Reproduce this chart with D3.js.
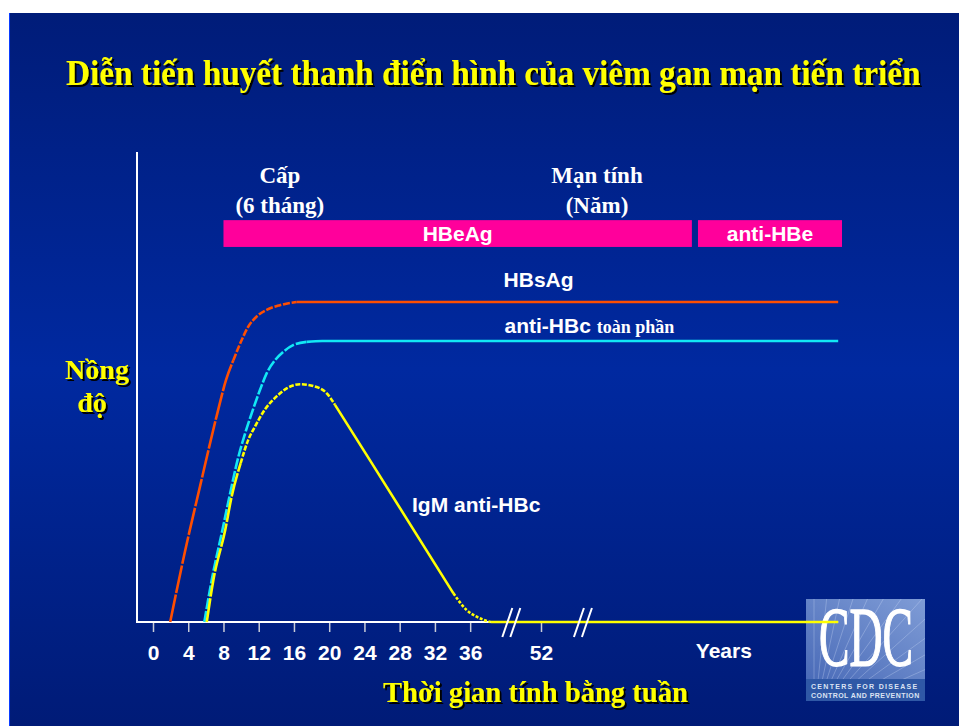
<!DOCTYPE html>
<html>
<head>
<meta charset="utf-8">
<script src="https://cdn.jsdelivr.net/npm/d3@7"></script>
<style>
  body { margin: 0; background: #fff; }
  svg { display: block; }
</style>
</head>
<body>
<svg id="chart" width="959" height="726"></svg>
<script>
// --- data (weeks after exposure, relative concentration 0-100) ---
var weekTicks = [0, 4, 8, 12, 16, 20, 24, 28, 32, 36, 52];
var yearsTick = 100;           // where the "Years" label sits on the week scale
var axisBreaks = [42, 63];     // the two "//" marks on the time axis

var hbsag = [[1.95, 0], [3.63, 15], [5.33, 28.8], [7.3, 44.4], [8.29, 51.5], [9.12, 55.7],
  [10.07, 60], [10.8, 62.8], [11.77, 65], [12.9, 66.4], [14.4, 67.4], [16.3, 68.1], [130, 68.1]];

var antiHbcTotal = [[5.83, 0], [6.66, 8.9], [7.8, 18.9], [8.6, 26], [9.7, 35.2], [10.45, 40.1],
  [11.2, 44.4], [12.15, 49.4], [12.9, 52.9], [13.85, 55.7], [14.8, 57.5], [15.9, 58.9],
  [17.45, 59.6], [19.2, 59.8], [130, 59.8]];

var igmAntiHbc = [[6.1, 0], [6.85, 8.9], [8.2, 19.6], [8.93, 26.7], [9.95, 33.8], [10.8, 38.7],
  [11.58, 41.6], [12.7, 45.2], [14.03, 48], [15.17, 49.7], [16.69, 50.6], [18.2, 50.2],
  [19.7, 48.7], [20.66, 46.2], [24.6, 34.5], [34.1, 6.1], [35.6, 2.55], [36.74, 1.13],
  [38.3, 0], [130, 0]];

// marker bars: label, start week, end week
var markerBars = [["HBeAg", 8, 91.6], ["anti-HBe", 93.2, 131]];

// phase headers: first line, second line, centre week
var phases = [["Cấp", "(6 tháng)", 14.4], ["Mạn tính", "(Năm)", 66.7]];

var titleText = "Diễn tiến huyết thanh điển hình của viêm gan mạn tiến triển";
var yTitle = ["Nồng", "độ"];
var xTitle = "Thời gian tính bằng tuần";

// --- layout ---
var W = 959, H = 726;
var axisX = 137, axisTop = 152, axisBottom = 622;
var serif = "'Liberation Serif', 'Times New Roman', serif";
var sans = "'Liberation Sans', Arial, sans-serif";

var svg = d3.select('#chart');
var defs = svg.append('defs');

var bg = defs.append('linearGradient').attr('id', 'bg').attr('x1', 0).attr('y1', 0).attr('x2', 0).attr('y2', 1);
bg.append('stop').attr('offset', '0%').attr('stop-color', '#001c79');
bg.append('stop').attr('offset', '50%').attr('stop-color', '#0029a0');
bg.append('stop').attr('offset', '100%').attr('stop-color', '#001b77');

// hard black drop shadow for the yellow titles
defs.append('filter').attr('id', 'shadow').attr('x', '-5%').attr('y', '-20%').attr('width', '115%').attr('height', '160%')
  .append('feDropShadow').attr('dx', 2).attr('dy', 2).attr('stdDeviation', 0.3)
  .attr('flood-color', '#000').attr('flood-opacity', 1);

svg.append('rect').attr('width', W).attr('height', H).attr('fill', '#fff');
svg.append('rect').attr('x', 9).attr('y', 13).attr('width', W - 9).attr('height', H - 13).attr('fill', 'url(#bg)');
svg.append('line').attr('x1', 9.5).attr('x2', 9.5).attr('y1', 13).attr('y2', H)
  .attr('stroke', '#0a3cff').attr('stroke-width', 1);

// piecewise scale: weeks are linear up to 40, then compressed past the axis breaks
var x = d3.scaleLinear().domain([0, 40, 52, 131]).range([153, 505.4, 541, 842]);
var y = d3.scaleLinear().domain([0, 100]).range([axisBottom, axisTop]);

// yellow serif text; squeezed horizontally to a target width when given
function shadowText(str, px, py, size, anchor, width) {
  var t = svg.append('text').attr('x', 0).attr('y', 0)
    .attr('font-family', serif).attr('font-weight', 'bold').attr('font-size', size)
    .attr('text-anchor', anchor).attr('fill', '#ffff00').attr('filter', 'url(#shadow)').text(str);
  var sx = 1;
  if (width) sx = Math.min(1, width / t.node().getComputedTextLength());
  t.attr('transform', 'translate(' + px + ',' + py + ') scale(' + sx + ',1)');
  return t;
}

// title
shadowText(titleText, 66, 85, 35, 'start', 855);

// y title
shadowText(yTitle[0], 97, 379, 28, 'middle');
shadowText(yTitle[1], 92, 412, 28, 'middle');

// x title
shadowText(xTitle, 383, 702, 29, 'start', 305);

// --- CDC logo ---
var logo = svg.append('g').attr('transform', 'translate(806,599)');
var lg = defs.append('linearGradient').attr('id', 'logoGrad').attr('x1', 0).attr('y1', 1).attr('x2', 1).attr('y2', 0);
lg.append('stop').attr('offset', '0%').attr('stop-color', '#4a6bb8');
lg.append('stop').attr('offset', '100%').attr('stop-color', '#7f9cd6');
defs.append('clipPath').attr('id', 'logoClip').append('rect').attr('width', 119).attr('height', 80);
logo.append('rect').attr('width', 119).attr('height', 102).attr('fill', '#2f58a6');
logo.append('rect').attr('width', 119).attr('height', 80).attr('fill', 'url(#logoGrad)');
var rays = logo.append('g').attr('clip-path', 'url(#logoClip)');
d3.range(0, 16).forEach(function (i) {
  var a = -Math.PI / 2 + i * (Math.PI / 2) / 15;
  rays.append('line').attr('x1', 8).attr('y1', 120)
    .attr('x2', 8 + Math.cos(a) * 220).attr('y2', 120 + Math.sin(a) * 220)
    .attr('stroke', '#dfe8ff').attr('stroke-opacity', 0.35).attr('stroke-width', 0.8);
});
var cdc = logo.append('text').attr('x', 0).attr('y', 0).attr('font-family', serif).attr('font-size', 84)
  .attr('fill', '#fff').attr('stroke', '#fff').attr('stroke-width', 1.4).text('CDC');
cdc.attr('transform', 'translate(13,67) scale(' + (94 / cdc.node().getComputedTextLength()) + ',1)');
logo.append('text').attr('x', 5).attr('y', 90).attr('font-family', sans).attr('font-weight', 'bold')
  .attr('font-size', 7).attr('fill', '#dbe3f3').attr('letter-spacing', 1.3)
  .text('CENTERS FOR DISEASE');
logo.append('text').attr('x', 5).attr('y', 99).attr('font-family', sans).attr('font-weight', 'bold')
  .attr('font-size', 7).attr('fill', '#dbe3f3').attr('letter-spacing', 0.45)
  .text('CONTROL AND PREVENTION');

// --- axes ---
svg.append('line').attr('x1', axisX).attr('x2', axisX).attr('y1', axisTop).attr('y2', axisBottom + 1)
  .attr('stroke', '#fff').attr('stroke-width', 2);

var xAxis = svg.append('g').attr('transform', 'translate(0,' + axisBottom + ')')
  .call(d3.axisBottom(x).tickValues(weekTicks).tickSize(10).tickPadding(13).tickFormat(d3.format('d')));
xAxis.select('.domain').remove();
xAxis.selectAll('.tick line').attr('stroke', '#c8ccd8').attr('stroke-width', 1.5);
xAxis.selectAll('.tick text').attr('fill', '#fff').attr('font-family', sans)
  .attr('font-weight', 'bold').attr('font-size', 21);

svg.append('line').attr('x1', axisX).attr('x2', x(130)).attr('y1', axisBottom).attr('y2', axisBottom)
  .attr('stroke', '#fff').attr('stroke-width', 2);

svg.append('text').attr('x', x(yearsTick)).attr('y', 658).attr('text-anchor', 'middle')
  .attr('font-family', sans).attr('font-weight', 'bold').attr('font-size', 21).attr('fill', '#fff')
  .text('Years');

// --- marker bars ---
var barTop = 85.5, barBottom = 79.8;
markerBars.forEach(function (b) {
  svg.append('rect').attr('x', x(b[1])).attr('y', y(barTop))
    .attr('width', x(b[2]) - x(b[1])).attr('height', y(barBottom) - y(barTop)).attr('fill', '#ff009b');
  svg.append('text').attr('x', (x(b[1]) + x(b[2])) / 2).attr('y', y(barBottom) - 6)
    .attr('text-anchor', 'middle').attr('font-family', sans).attr('font-weight', 'bold')
    .attr('font-size', 21).attr('fill', '#fff').text(b[0]);
});

// phase headers
phases.forEach(function (p) {
  [p[0], p[1]].forEach(function (s, i) {
    svg.append('text').attr('x', x(p[2])).attr('y', 183 + i * 30).attr('text-anchor', 'middle')
      .attr('font-family', serif).attr('font-weight', 'bold').attr('font-size', 23)
      .attr('fill', '#fff').text(s);
  });
});

// --- curves ---
var line = d3.line().x(function (d) { return x(d[0]); }).y(function (d) { return y(d[1]); })
  .curve(d3.curveMonotoneX);

var series = [
  { data: hbsag, color: '#ff4e00', parts: [[0, 5, '28,1.6'], [5, 11, '7,1.8'], [11, 12, null]] },
  { data: antiHbcTotal, color: '#12e8f5', parts: [[0, 12, '11,2'], [12, 14, null]] },
  { data: igmAntiHbc, color: '#ffff00', parts: [[0, 4, '24,1.6'], [4, 13, '5,1.6'], [13, 15, null], [15, 18, '3,1.6'], [18, 19, null]] }
];

series.forEach(function (s) {
  s.parts.forEach(function (p) {
    var path = svg.append('path').datum(s.data.slice(p[0], p[1] + 1)).attr('d', line)
      .attr('fill', 'none').attr('stroke', s.color).attr('stroke-width', 2.6);
    if (p[2]) path.attr('stroke-dasharray', p[2]);
  });
});

// axis breaks
axisBreaks.forEach(function (w) {
  [-4, 4].forEach(function (o) {
    svg.append('line').attr('x1', x(w) + o - 5).attr('y1', axisBottom + 15)
      .attr('x2', x(w) + o + 5).attr('y2', axisBottom - 14)
      .attr('stroke', '#fff').attr('stroke-width', 2);
  });
});

// curve labels
function label(str, px, py, anchor) {
  return svg.append('text').attr('x', px).attr('y', py).attr('text-anchor', anchor)
    .attr('font-family', sans).attr('font-weight', 'bold').attr('font-size', 21).attr('fill', '#fff').text(str);
}
label('HBsAg', x(51.2), 287, 'middle');
var ab = label('anti-HBc ', x(39.9), 333, 'start');
ab.append('tspan').attr('font-family', serif).attr('font-size', 18).text('toàn phần');
label('IgM anti-HBc', x(29.4), 512, 'start');
</script>
</body>
</html>
